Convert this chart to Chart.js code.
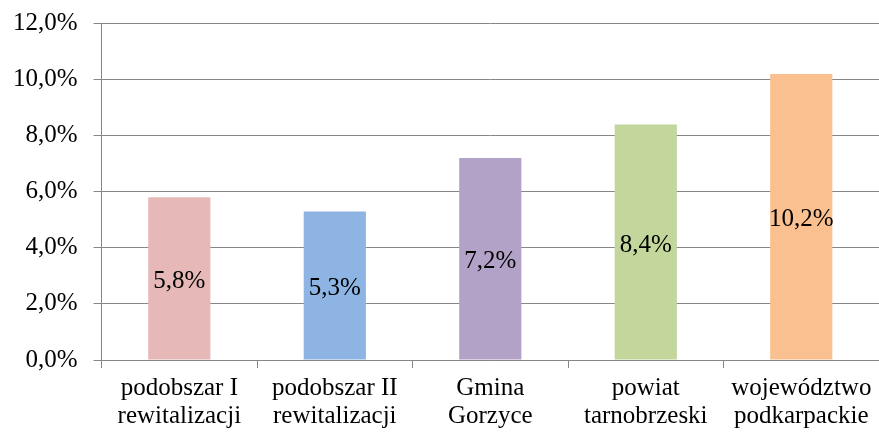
<!DOCTYPE html>
<html><head><meta charset="utf-8">
<script src="https://cdn.jsdelivr.net/npm/chart.js@4/dist/chart.umd.min.js"></script>
<style>html,body{margin:0;padding:0;background:#fff;}#wrap{width:879px;height:432px;}</style>
</head><body><div id="wrap"><canvas id="c" width="879" height="432"></canvas></div>
<script>
const categories = [["podobszar I","rewitalizacji"],["podobszar II","rewitalizacji"],["Gmina","Gorzyce"],["powiat","tarnobrzeski"],["województwo","podkarpackie"]];
const values = [5.8, 5.3, 7.2, 8.4, 10.2];
const colors = ["#E6B9B8","#8DB4E2","#B3A2C7","#C3D69B","#FAC090"];
const yTicks = {min:0, max:12, step:2};
const fmt = v => v.toFixed(1).replace('.', ',') + '%';
const FONT = "'Liberation Serif','Times New Roman',serif";

const labelPlugin = {
  id:'midLabels',
  afterDatasetsDraw(chart){
    const ctx = chart.ctx;
    const meta = chart.getDatasetMeta(0);
    ctx.save();
    ctx.font = "25px " + FONT;
    ctx.fillStyle = "#000";
    ctx.textAlign = "center";
    ctx.textBaseline = "middle";
    meta.data.forEach((bar,i)=>{
      const p = bar.getProps(['x','y','base'], true);
      ctx.fillText(fmt(values[i]), p.x, (p.y+p.base)/2 + 3);
    });
    ctx.restore();
  }
};

new Chart(document.getElementById('c'), {
  type:'bar',
  data:{labels:categories, datasets:[{data:values, backgroundColor:colors, barPercentage:0.4, categoryPercentage:1.0}]},
  options:{
    responsive:false, animation:false,
    layout:{padding:{left:-3,top:0,right:0,bottom:-5}},
    plugins:{legend:{display:false}, tooltip:{enabled:false}},
    scales:{
      x:{
        grid:{display:true, drawOnChartArea:false, drawTicks:true, tickLength:8, color:'#868686', offset:true},
        border:{display:true, color:'#868686'},
        ticks:{font:{family:FONT,size:25,lineHeight:1.1}, color:'#000', padding:7, maxRotation:0, autoSkip:false}
      },
      y:{
        min:yTicks.min, max:yTicks.max,
        grid:{color:'#868686', tickLength:8},
        border:{display:true, color:'#868686'},
        ticks:{stepSize:yTicks.step, font:{family:FONT,size:25,lineHeight:0.6}, color:'#000', padding:16, callback:v=>fmt(v)}
      }
    }
  },
  plugins:[labelPlugin]
});
</script></body></html>
